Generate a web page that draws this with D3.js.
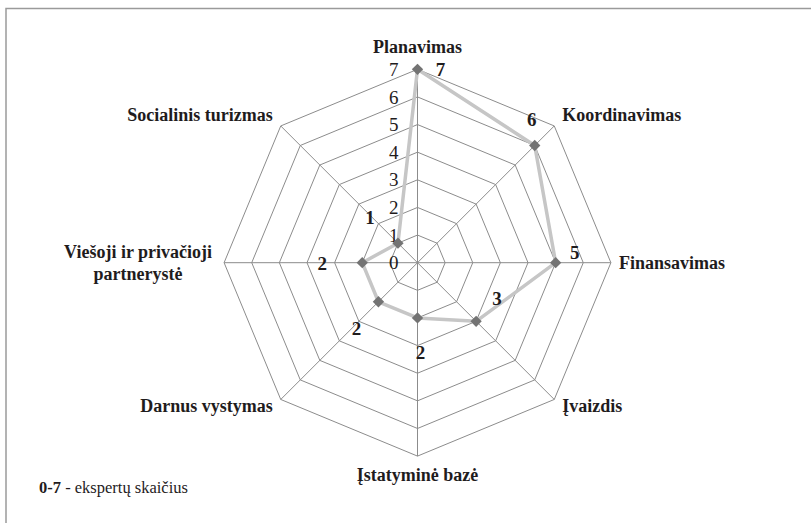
<!DOCTYPE html>
<html>
<head>
<meta charset="utf-8">
<script src="https://cdn.jsdelivr.net/npm/d3@7"></script>
<style>
  body { margin: 0; background: #fff; }
  text { font-family: "Liberation Serif", "Times New Roman", serif; fill: #1f1c1d; }
</style>
</head>
<body>
<svg id="radarSvg" width="811" height="523"></svg>
<script>
// radar chart of expert counts

// data
let categories = ["Planavimas", "Koordinavimas", "Finansavimas", "Įvaizdis",
    "Įstatyminė bazė", "Darnus vystymas", "Viešoji ir privačioji partnerystė", "Socialinis turizmas"];
let values = [7, 6, 5, 3, 2, 2, 2, 1];
let tickValues = [0, 1, 2, 3, 4, 5, 6, 7];
let legendBold = "0-7";
let legendText = " - ekspertų skaičius";

// layout
let cx = 417.5, cy = 262.7, radius = 193.4;
// nudges for the data labels (Excel placed them by hand)
let labelNudge = [[23, 0], [-3, -26], [19, -10], [21, -23], [3, 34], [-22, 27], [-40, 1], [-28, -26]];

let rScale = d3.scaleLinear().domain([0, 7]).range([0, radius]);
let angle = function (i) { return i * 2 * Math.PI / categories.length; };

function pt(i, v) {
    return [cx + rScale(v) * Math.sin(angle(i)), cy - rScale(v) * Math.cos(angle(i))];
}

let svg = d3.select("#radarSvg");

// frame (only the top and left edges show)
svg.append("rect")
    .attr("x", 6).attr("y", 8.5)
    .attr("width", 900).attr("height", 600)
    .attr("fill", "none")
    .attr("stroke", "#9a9a9a")
    .attr("stroke-width", 1.5);

// grid octagons
let grid = svg.append("g");
grid.selectAll("polygon")
    .data(tickValues.slice(1))
    .enter()
    .append("polygon")
    .attr("points", function (t) {
        return categories.map(function (c, i) { return pt(i, t).join(","); }).join(" ");
    })
    .attr("fill", "none")
    .attr("stroke", "#8c8c8c")
    .attr("stroke-width", 1);

grid.selectAll("line")
    .data(categories)
    .enter()
    .append("line")
    .attr("x1", cx).attr("y1", cy)
    .attr("x2", function (d, i) { return pt(i, 7)[0]; })
    .attr("y2", function (d, i) { return pt(i, 7)[1]; })
    .attr("stroke", "#8c8c8c")
    .attr("stroke-width", 1);

// tick labels on the vertical axis
svg.append("g").selectAll("text")
    .data(tickValues)
    .enter()
    .append("text")
    .attr("x", cx - 19)
    .attr("y", function (t) { return cy - rScale(t); })
    .attr("dy", "0.35em")
    .attr("text-anchor", "end")
    .style("font-size", "19px")
    .text(function (t) { return t; });

// data line
let line = d3.line().curve(d3.curveLinearClosed);
svg.append("path")
    .attr("d", line(values.map(function (v, i) { return pt(i, v); })))
    .attr("fill", "none")
    .attr("stroke", "#c6c6c6")
    .attr("stroke-width", 3.5)
    .attr("stroke-linejoin", "round");

// markers
svg.append("g").selectAll("path")
    .data(values)
    .enter()
    .append("path")
    .attr("d", d3.symbol().type(d3.symbolSquare).size(64))
    .attr("transform", function (v, i) {
        let p = pt(i, v);
        return "translate(" + p[0] + "," + p[1] + ") rotate(45)";
    })
    .attr("fill", "#737373");

// data labels
svg.append("g").selectAll("text")
    .data(values)
    .enter()
    .append("text")
    .attr("x", function (v, i) { return pt(i, v)[0] + labelNudge[i][0]; })
    .attr("y", function (v, i) { return pt(i, v)[1] + labelNudge[i][1]; })
    .attr("dy", "0.35em")
    .attr("text-anchor", "middle")
    .style("font-size", "19px")
    .style("font-weight", "bold")
    .text(function (v) { return v; });

// category labels
let catLabels = svg.append("g").selectAll("text")
    .data(categories)
    .enter()
    .append("text")
    .style("font-size", "18px")
    .style("font-weight", "bold")
    .attr("text-anchor", function (d, i) {
        let s = Math.sin(angle(i));
        return Math.abs(s) < 0.01 ? "middle" : (s > 0 ? "start" : "end");
    })
    .attr("x", function (d, i) {
        let p = pt(i, 7), s = Math.sin(angle(i));
        if (Math.abs(s) < 0.01) return p[0];
        return s > 0 ? p[0] + 8 : p[0] - 8;
    })
    .attr("y", function (d, i) {
        let p = pt(i, 7), c = Math.cos(angle(i));
        if (c > 0.99) return p[1] - 16;
        if (c < -0.99) return p[1] + 25;
        if (c > 0.01) return p[1] - 5;
        if (c < -0.01) return p[1] + 13;
        return p[1] + 6;
    });

catLabels.each(function (d, i) {
    let el = d3.select(this);
    if (d === "Viešoji ir privačioji partnerystė") {
        let p = pt(i, 7);
        el.attr("text-anchor", "middle").attr("x", null).attr("y", null);
        el.append("tspan").attr("x", p[0] - 86).attr("y", p[1] - 5).text("Viešoji ir privačioji");
        el.append("tspan").attr("x", p[0] - 86).attr("y", p[1] + 17).text("partnerystė");
    } else {
        el.text(d);
    }
});

// legend note
let legend = svg.append("text")
    .attr("x", 39)
    .attr("y", 493)
    .style("font-size", "16.5px");
legend.append("tspan").style("font-weight", "bold").text(legendBold);
legend.append("tspan").text(legendText);
</script>
</body>
</html>
